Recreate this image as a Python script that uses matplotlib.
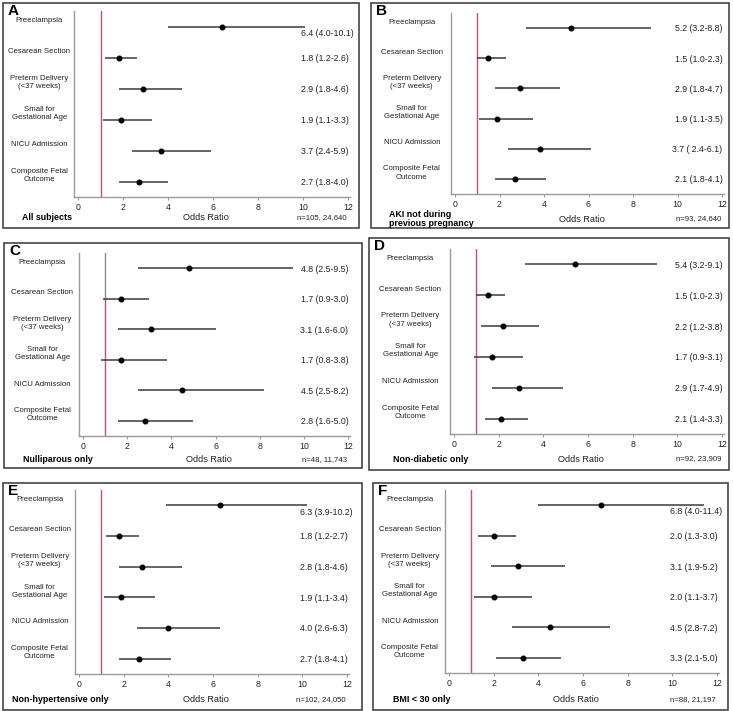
import matplotlib.pyplot as plt
import numpy as np
from matplotlib.patches import Rectangle

plt.rcParams.update({"font.family": ["Liberation Sans", "DejaVu Sans"]})

W, H = 733, 711

outcomes = [
    "Preeclampsia",
    "Cesarean Section",
    "Preterm Delivery\n(<37 weeks)",
    "Small for\nGestational Age",
    "NICU Admission",
    "Composite Fetal\nOutcome",
]
letters = ["A", "B", "C", "D", "E", "F"]
subsets = [
    "All subjects",
    "AKI not during\nprevious pregnancy",
    "Nulliparous only",
    "Non-diabetic only",
    "Non-hypertensive only",
    "BMI < 30 only",
]
sample_sizes = [
    "n=105, 24,640",
    "n=93, 24,640",
    "n=48, 11,743",
    "n=92, 23,909",
    "n=102, 24,050",
    "n=88, 21,197",
]

# odds ratios (points), lower / upper CI, printed labels
or_a = [6.4, 1.8, 2.9, 1.9, 3.7, 2.7]
lo_a = [4.0, 1.2, 1.8, 1.1, 2.4, 1.8]
hi_a = [10.1, 2.6, 4.6, 3.3, 5.9, 4.0]
txt_a = ["6.4 (4.0-10.1)", "1.8 (1.2-2.6)", "2.9 (1.8-4.6)", "1.9 (1.1-3.3)", "3.7 (2.4-5.9)", "2.7 (1.8-4.0)"]

or_b = [5.2, 1.5, 2.9, 1.9, 3.8, 2.7]
lo_b = [3.2, 1.0, 1.8, 1.1, 2.4, 1.8]
hi_b = [8.8, 2.3, 4.7, 3.5, 6.1, 4.1]
txt_b = ["5.2 (3.2-8.8)", "1.5 (1.0-2.3)", "2.9 (1.8-4.7)", "1.9 (1.1-3.5)", "3.7 ( 2.4-6.1)", "2.1 (1.8-4.1)"]

or_c = [4.8, 1.7, 3.1, 1.7, 4.5, 2.8]
lo_c = [2.5, 0.9, 1.6, 0.8, 2.5, 1.6]
hi_c = [9.5, 3.0, 6.0, 3.8, 8.2, 5.0]
txt_c = ["4.8 (2.5-9.5)", "1.7 (0.9-3.0)", "3.1 (1.6-6.0)", "1.7 (0.8-3.8)", "4.5 (2.5-8.2)", "2.8 (1.6-5.0)"]

or_d = [5.4, 1.5, 2.2, 1.7, 2.9, 2.1]
lo_d = [3.2, 1.0, 1.2, 0.9, 1.7, 1.4]
hi_d = [9.1, 2.3, 3.8, 3.1, 4.9, 3.3]
txt_d = ["5.4 (3.2-9.1)", "1.5 (1.0-2.3)", "2.2 (1.2-3.8)", "1.7 (0.9-3.1)", "2.9 (1.7-4.9)", "2.1 (1.4-3.3)"]

or_e = [6.3, 1.8, 2.8, 1.9, 4.0, 2.7]
lo_e = [3.9, 1.2, 1.8, 1.1, 2.6, 1.8]
hi_e = [10.2, 2.7, 4.6, 3.4, 6.3, 4.1]
txt_e = ["6.3 (3.9-10.2)", "1.8 (1.2-2.7)", "2.8 (1.8-4.6)", "1.9 (1.1-3.4)", "4.0 (2.6-6.3)", "2.7 (1.8-4.1)"]

or_f = [6.8, 2.0, 3.1, 2.0, 4.5, 3.3]
lo_f = [4.0, 1.3, 1.9, 1.1, 2.8, 2.1]
hi_f = [11.4, 3.0, 5.2, 3.7, 7.2, 5.0]
txt_f = ["6.8 (4.0-11.4)", "2.0 (1.3-3.0)", "3.1 (1.9-5.2)", "2.0 (1.1-3.7)", "4.5 (2.8-7.2)", "3.3 (2.1-5.0)"]

panels = [
    (or_a, lo_a, hi_a, txt_a),
    (or_b, lo_b, hi_b, txt_b),
    (or_c, lo_c, hi_c, txt_c),
    (or_d, lo_d, hi_d, txt_d),
    (or_e, lo_e, hi_e, txt_e),
    (or_f, lo_f, hi_f, txt_f),
]

# pixel geometry of each panel: box (l, t, r, b), tick 0 / tick 12 x, axis top / bottom y,
# left x of subset caption, y of footer line
layout = [
    dict(box=(3, 3, 359, 228), x0=78, x12=348, ytop=11, ybot=197, tx=22, fy=218),
    dict(box=(371, 3, 729, 228), x0=455, x12=722, ytop=13, ybot=194, tx=389, fy=219),
    dict(box=(4, 243, 362, 468), x0=83, x12=348, ytop=253, ybot=436, tx=23, fy=460),
    dict(box=(369, 238, 729, 470), x0=454, x12=722, ytop=249, ybot=434, tx=393, fy=459),
    dict(box=(3, 483, 362, 710), x0=79, x12=347, ytop=490, ybot=674, tx=12, fy=700),
    dict(box=(373, 483, 728, 710), x0=449, x12=717, ytop=490, ybot=673, tx=393, fy=700),
]

REF = "#c8506e"
LINE = "#3a3a3a"
SPINE = "#9a9a9a"

fig = plt.figure(figsize=(W / 100, H / 100), dpi=100)

xmin, xmax = -0.2, 12.1
y = np.arange(6, 0, -1)

for i, g in enumerate(layout):
    odds, lo, hi, ci_txt = panels[i]
    bl, bt, br, bb = g["box"]
    fig.patches.append(Rectangle((bl / W, 1 - bb / H), (br - bl) / W, (bb - bt) / H,
                                 transform=fig.transFigure, fill=False,
                                 ec="#454545", lw=1.2))
    scale = (g["x12"] - g["x0"]) / 12
    left = g["x0"] + xmin * scale
    width = (xmax - xmin) * scale
    ax = fig.add_axes([left / W, 1 - g["ybot"] / H, width / W, (g["ybot"] - g["ytop"]) / H])
    ax.set_xlim(xmin, xmax)
    ax.set_ylim(0.5, 6.5)
    ax.patch.set_alpha(0)

    if letters[i] == "C":
        ax.plot([1, 1], [6.5, 5.0], color="#8a8a8a", lw=1.0, zorder=1)
        ax.plot([1, 1], [5.0, 0.5], color=REF, lw=1.0, zorder=1)
    else:
        ax.axvline(1, color=REF, lw=1.0, zorder=1)

    ax.hlines(y, lo, hi, color=LINE, lw=1.1, zorder=2)
    ax.plot(odds, y, "o", color="black", ms=3.3, zorder=3)

    for s in ["top", "right"]:
        ax.spines[s].set_visible(False)
    for s in ["left", "bottom"]:
        ax.spines[s].set_color(SPINE)
        ax.spines[s].set_linewidth(1.0)
    ax.set_xticks(range(0, 13, 2))
    ax.set_yticks([])
    ax.tick_params(axis="x", length=2.5, width=0.8, color=SPINE, labelsize=6.3,
                   labelcolor="#222222", pad=2)

    # outcome labels to the left of the axis
    cx = ((bl + left) / 2 + 1 - left) / width
    for yy, lab in zip(y, outcomes):
        ax.text(cx, yy + 0.2, lab, transform=ax.get_yaxis_transform(),
                ha="center", va="center", fontsize=5.6, color="#222222",
                linespacing=1.25)

    # estimate labels on the right
    for yy, h, t in zip(y, hi, ci_txt):
        if h > 10:
            ax.text(12.25, yy - 0.22, t, ha="right", va="center", fontsize=6.3,
                    color="#222222", clip_on=False)
        else:
            ax.text(12.02, yy - 0.03, t, ha="right", va="center", fontsize=6.3,
                    color="#222222", clip_on=False)

    # panel letter
    fig.text((bl + 5) / W, 1 - (bt + 1) / H, letters[i], ha="left", va="top",
             fontsize=11, fontweight="bold")
    # footer
    fy = 1 - g["fy"] / H
    fig.text(g["tx"] / W, fy, subsets[i], ha="left", va="center", fontsize=6.4,
             fontweight="bold", linespacing=1.05)
    fig.text((g["x0"] + 5.7 * scale) / W, fy, "Odds Ratio", ha="center", va="center",
             fontsize=6.6, color="#222222")
    fig.text((g["x12"] - 1) / W, fy, sample_sizes[i], ha="right", va="center",
             fontsize=5.6, color="#222222")

fig.savefig("out.png", dpi=100, facecolor="white")
